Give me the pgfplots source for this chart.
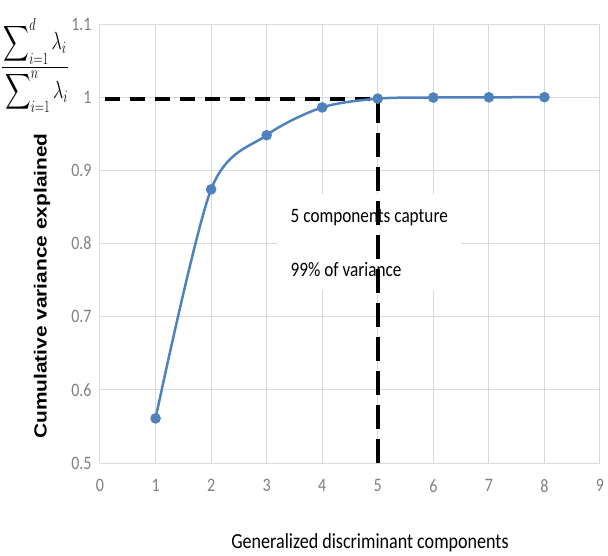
\documentclass[border=0pt]{standalone}
\usepackage{amsmath}
\usepackage{fontspec}
\setmainfont{Carlito}[FakeStretch=0.84]
\newfontfamily\ylabfont{Liberation Sans}
\usepackage{pgfplots}
\pgfplotsset{compat=1.18}
\definecolor{exblue}{RGB}{79,129,189}
\definecolor{ticktxt}{RGB}{128,128,128}

\begin{document}
\begin{tikzpicture}
\begin{axis}[
  scale only axis, width=500bp, height=439bp,
  xmin=0, xmax=9, ymin=0.5, ymax=1.1,
  xtick={0,1,...,9}, ytick={0.5,0.6,0.7,0.8,0.9,1,1.1},
  yticklabels={0.5,0.6,0.7,0.8,0.9,1,1.1},
  grid=major, major grid style={line width=1bp, black!15},
  axis line style={draw=none}, major tick length=0pt,
  tick label style={font=\fontsize{19bp}{21bp}\selectfont, text=ticktxt},
  /pgf/number format/assume math mode=true,
  xticklabel style={yshift=-13bp},
  yticklabel style={xshift=-5bp},
  clip=false,
]
\coordinate (O) at (rel axis cs:0,0);
% white box behind the annotation
\fill[white] (axis cs:3.18,0.737) rectangle (axis cs:6.5,0.868);
\node[anchor=west, font=\fontsize{20.5bp}{22bp}\selectfont] at (axis cs:3.37,0.836) {5 components capture};
\node[anchor=west, font=\fontsize{20.5bp}{22bp}\selectfont] at (axis cs:3.37,0.764) {99\% of variance};
% dashed guide lines
\draw[black, line width=4bp, dash pattern=on 15bp off 10bp] (axis cs:0.09,0.998) -- (axis cs:5,0.998);
\draw[black, line width=4bp, dash pattern=on 24bp off 10bp] (axis cs:5,0.998) -- (axis cs:5,0.488);
\addplot[exblue, line width=2.5bp, smooth, tension=0.5, mark=*, mark size=4bp,
  mark options={fill=exblue, draw=exblue}] coordinates {
(1,0.561)(2,0.874)(3,0.948)(4,0.986)(5,0.998)(6,0.9995)(7,0.9998)(8,1.0)};
% axis titles
\node[rotate=90, font=\ylabfont\bfseries\fontsize{20.9bp}{22bp}\selectfont]
  at (axis description cs:-0.116,0.403) {\scalebox{1}[0.84]{Cumulative variance explained}};
\node[font=\fontsize{21.5bp}{23bp}\selectfont]
  at (axis description cs:0.54,-0.182) {Generalized discriminant components};
\node[font=\fontsize{23bp}{25bp}\selectfont, inner sep=0pt]
  at (axis description cs:-0.13,0.905)
  {\scalebox{0.72}[1]{$\dfrac{\displaystyle\sum\nolimits_{i=1}^{d}\lambda_i\rule[-10bp]{0pt}{0pt}}{\rule{0pt}{27bp}\displaystyle\sum\nolimits_{i=1}^{n}\lambda_i}$}};
\end{axis}
\path (O) ++(-100bp,-91bp) rectangle ++(608bp,554bp);
\end{tikzpicture}
\end{document}
